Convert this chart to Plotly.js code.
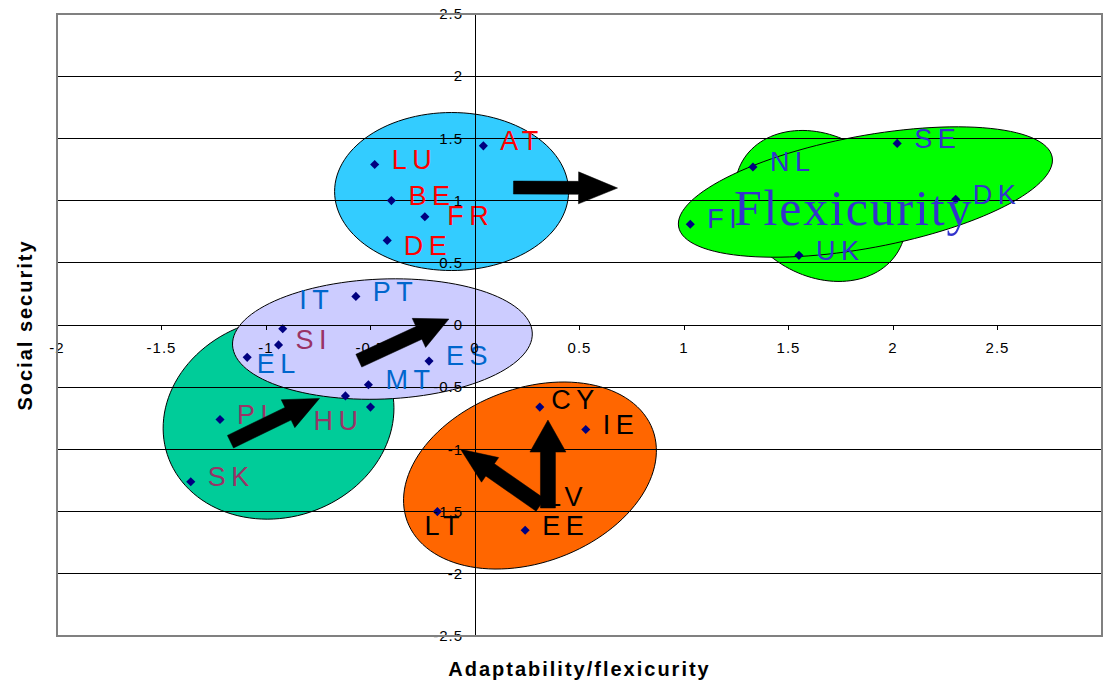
<!DOCTYPE html>
<html><head><meta charset="utf-8">
<script src="https://cdn.plot.ly/plotly-3.0.1.min.js"></script>
<style>
html,body{margin:0;padding:0;background:#fff}
#chart{width:1103px;height:680px}
.textpoint text{letter-spacing:5.5px}
.xtick text,.ytick text{letter-spacing:1px}
.xtitle,.ytitle{letter-spacing:2px}
.annotation-text{letter-spacing:1.8px}
</style></head><body><div id="chart"></div>
<script>
// ---------- DATA ----------
const countries = ['AT','LU','BE','FR','DE','FI','NL','SE','DK','UK','IT','PT','SI','EL','ES','MT','PL','HU','CZ','SK','CY','IE','LV','LT','EE'];
const adaptability = [0.04,-0.48,-0.40,-0.24,-0.42,1.03,1.33,2.02,2.30,1.55,-0.92,-0.57,-0.94,-1.09,-0.22,-0.51,-1.22,-0.62,-0.50,-1.36,0.31,0.53,0.27,-0.18,0.24];
const socialSecurity = [1.44,1.29,1.00,0.87,0.68,0.81,1.27,1.46,1.01,0.56,-0.03,0.23,-0.16,-0.26,-0.29,-0.48,-0.76,-0.57,-0.66,-1.26,-0.66,-0.84,-1.42,-1.50,-1.65];
const labelGroup = ['red','red','red','red','red','violet','violet','violet','violet','violet','blue','blue','maroon','blue','blue','blue','maroon','maroon','maroon','maroon','black','black','black','black','black'];
const unlabelled = ['CZ'];
const xTickVals = [-2,-1.5,-1,-0.5,0,0.5,1,1.5,2,2.5,3];
const xTickText = ['-2','-1.5','-1','-0.5','0','0.5','1','1.5','2','2.5','3'];
const yTickVals = [-2.5,-2,-1.5,-1,-0.5,0,0.5,1,1.5,2,2.5];
const yTickText = ['-2.5','-2','-1.5','-1','-0.5','0','0.5','1','1.5','2','2.5'];
const xTitle = 'Adaptability/flexicurity';
const yTitle = 'Social security';
const bigLabel = 'Flexicurity';

// ---------- STYLE ----------
const W = 1103, H = 680;
const M = {l:57, r:1, t:14, b:44};
const XR = [-2,3], YR = [-2.5,2.5];
const PX_X = (W - M.l - M.r) / (XR[1]-XR[0]);
const PX_Y = (H - M.t - M.b) / (YR[1]-YR[0]);
const groupColour = {red:'#ff0000', violet:'#3333cc', blue:'#0066cc', maroon:'#993366', black:'#000000'};
const defaultOffset = [17, -2.5];
const labelOffsets = {FR:[22.5,1.4], DE:[16.5,7.8], IT:[16.5,-26], EL:[9.5,8.5], HU:[-32,27.3], CY:[11.5,-5.2], LT:[-13,16.5], LV:[14.5,-2]};

const ellipses = [
  {cx:-0.94, cy:-0.75, a:117, b:99, rot:18, fill:'#00cc99'},
  {cx:-0.443, cy:-0.113, a:150, b:60, rot:2.3, fill:'#ccccff'},
  {cx:-0.112, cy:1.073, a:117, b:79, rot:0, fill:'#33ccff'},
  {cx:1.653, cy:0.957, a:90, b:70, rot:-30, fill:'#00ff00'},
  {cx:1.868, cy:1.069, a:190, b:56, rot:10.6, fill:'#00ff00'},
  {cx:0.263, cy:-1.21, a:131, b:87, rot:20.5, fill:'#ff6600'}
];
const arrows = [
  {from:[0.184,1.105], to:[0.682,1.101], sw:13, hw:32, hl:39},
  {from:[-0.556,-0.287], to:[-0.125,0.048], sw:14, hw:32, hl:33},
  {from:[-1.17,-0.938], to:[-0.744,-0.59], sw:14, hw:31, hl:35},
  {from:[0.349,-1.471], to:[0.349,-0.764], sw:15, hw:36, hl:32},
  {from:[0.313,-1.447], to:[-0.069,-0.999], sw:15, hw:30, hl:36}
];

function ellipsePath(e){
  const th = e.rot*Math.PI/180, n = 120; let p = '';
  for(let i=0;i<n;i++){
    const t = 2*Math.PI*i/n;
    const u = e.a*Math.cos(t), v = e.b*Math.sin(t);
    const X = u*Math.cos(th) - v*Math.sin(th), Y = u*Math.sin(th) + v*Math.cos(th);
    p += (i? ' L':'M') + (e.cx + X/PX_X).toFixed(5) + ',' + (e.cy + Y/PX_Y).toFixed(5);
  }
  return p + ' Z';
}
function arrowPath(a){
  const tx=a.from[0]*PX_X, ty=a.from[1]*PX_Y, px=a.to[0]*PX_X, py=a.to[1]*PX_Y;
  const dx=px-tx, dy=py-ty, L=Math.hypot(dx,dy), ux=dx/L, uy=dy/L, nx=-uy, ny=ux;
  const bx=tx+ux*(L-a.hl), by=ty+uy*(L-a.hl);
  const pts=[[tx+nx*a.sw/2,ty+ny*a.sw/2],[bx+nx*a.sw/2,by+ny*a.sw/2],[bx+nx*a.hw/2,by+ny*a.hw/2],[px,py],
             [bx-nx*a.hw/2,by-ny*a.hw/2],[bx-nx*a.sw/2,by-ny*a.sw/2],[tx-nx*a.sw/2,ty-ny*a.sw/2]];
  return pts.map((q,i)=>(i?'L':'M')+(q[0]/PX_X).toFixed(5)+','+(q[1]/PX_Y).toFixed(5)).join(' ')+' Z';
}

const shapes = [];
ellipses.forEach(e=>shapes.push({type:'path', xref:'x', yref:'y', path:ellipsePath(e), fillcolor:e.fill, line:{color:'#000', width:1}, layer:'below'}));
arrows.forEach(a=>shapes.push({type:'path', xref:'x', yref:'y', path:arrowPath(a), fillcolor:'#000', line:{color:'#000', width:0.5}, layer:'above'}));
shapes.push({type:'rect', xref:'paper', yref:'paper', x0:0, x1:1, y0:0, y1:1, line:{color:'#808080', width:2}, layer:'above'});

const lx=[], ly=[], lt=[], lc=[];
countries.forEach((c,i)=>{
  if(unlabelled.includes(c)) return;
  const o = labelOffsets[c] || defaultOffset;
  lx.push(adaptability[i] + o[0]/PX_X);
  ly.push(socialSecurity[i] - o[1]/PX_Y);
  lt.push(c);
  lc.push(groupColour[labelGroup[i]]);
});

const font = 'Liberation Sans, Arial, sans-serif';
const traces = [
  {type:'scatter', mode:'markers', x:adaptability, y:socialSecurity, text:countries, hoverinfo:'text',
   marker:{symbol:'diamond', size:7, color:'#000080'}, showlegend:false},
  {type:'scatter', mode:'text', x:lx, y:ly, text:lt, textposition:'middle right', hoverinfo:'skip',
   textfont:{family:font, size:27, color:lc}, showlegend:false}
];

const layout = {
  width:W, height:H, margin:{l:M.l, r:M.r, t:M.t, b:M.b, pad:0},
  paper_bgcolor:'#fff', plot_bgcolor:'#fff', showlegend:false,
  font:{family:font, color:'#000'},
  xaxis:{range:XR, anchor:'free', position:0.5, tickmode:'array', tickvals:xTickVals, ticktext:xTickText,
    showgrid:false, zeroline:false, showline:true, linecolor:'#000', linewidth:1,
    ticks:'outside', ticklen:4, tickcolor:'#000', ticklabelstandoff:5,
    tickfont:{family:font, size:15, color:'#000'},
    title:{text:xTitle, font:{family:font, size:20, color:'#000', weight:'bold'}, standoff:306}},
  yaxis:{range:YR, anchor:'free', position:0.4, tickmode:'array', tickvals:yTickVals, ticktext:yTickText,
    showgrid:true, gridcolor:'#000', gridwidth:1, zeroline:false, showline:true, linecolor:'#000', linewidth:1,
    ticks:'outside', ticklen:4, tickcolor:'#000', ticklabelstandoff:5,
    tickfont:{family:font, size:15, color:'#000'},
    title:{text:yTitle, font:{family:font, size:20, color:'#000', weight:'bold'}, standoff:394}},
  shapes:shapes,
  annotations:[{x:1.811, y:0.94, xref:'x', yref:'y', text:bigLabel, showarrow:false,
    font:{family:'Liberation Serif, Times New Roman, serif', size:50, color:'#3333cc'}}]
};
Plotly.newPlot('chart', traces, layout, {displayModeBar:false, staticPlot:true});
</script></body></html>
